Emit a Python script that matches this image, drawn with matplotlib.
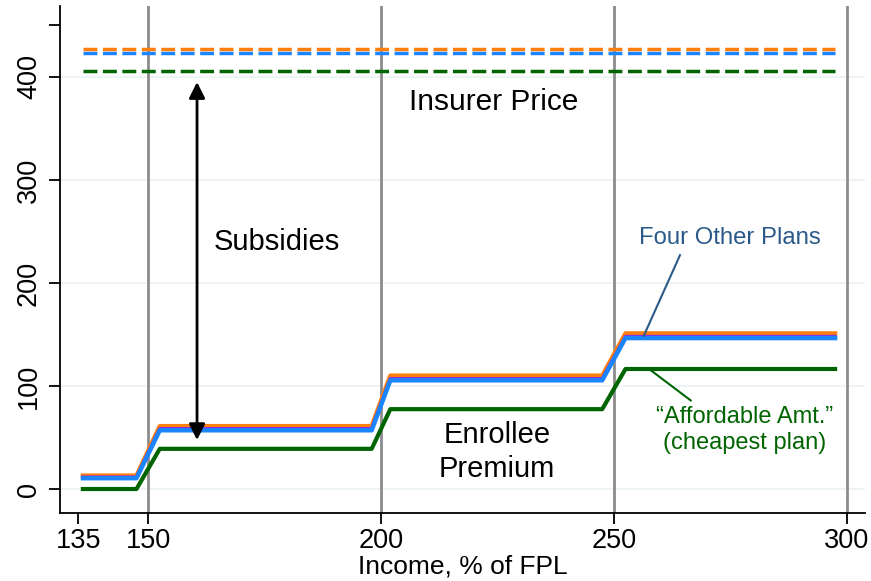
import matplotlib
matplotlib.use("Agg")
import matplotlib.pyplot as plt

plt.rcParams["font.family"] = ["Liberation Sans", "DejaVu Sans"]

# Income, % of FPL, at the kinks of the step lines
income = [136, 147.5, 152.5, 198, 202, 247.5, 252.5, 297.5]

# Enrollee premiums ($/month)
premium_orange = [13, 13, 61, 61, 110, 110, 151, 151]
premium_purple = [11.5, 11.5, 58.5, 58.5, 107, 107, 148, 148]
premium_blue = [10.5, 10.5, 57, 57, 105.5, 105.5, 146.5, 146.5]
premium_green = [0, 0, 39, 39, 77.5, 77.5, 116.5, 116.5]

# Insurer prices (flat over income)
price_orange = 427
price_blue = 423
price_green = 405.5

x_ticks = [135, 150, 200, 250, 300]
y_ticks = [0, 100, 200, 300, 400, 450]
y_labels = ["0", "100", "200", "300", "400", ""]

orange = "#ff7f0e"
blue = "#1a85ff"
purple = "#8a2be2"
green = "#006400"
navy = "#2b5a8a"

fig = plt.figure(figsize=(8.71, 5.81), dpi=100)
ax = fig.add_axes([0.069, 0.117, 0.924, 0.873])
ax.set_xlim(131.1, 303.9)
ax.set_ylim(-23.3, 469)

# faint horizontal grid and gray vertical reference lines
for yv in [0, 100, 200, 300, 400]:
    ax.axhline(yv, color="#eef4f5", lw=1.5, zorder=0)
for xv in [150, 200, 250, 300]:
    ax.axvline(xv, color="#8c8c8c", lw=2, zorder=1)

# dashed insurer prices
ax.plot([income[0], income[-1]], [price_green] * 2, color=green, lw=2.5, ls=(0, (4, 1.6)), zorder=3)
ax.plot([income[0], income[-1]], [price_blue] * 2, color=blue, lw=2.5, ls=(0, (4, 1.6)), zorder=3)
ax.plot([income[0], income[-1]], [price_orange] * 2, color=orange, lw=2.5, ls=(0, (4, 1.6)), zorder=4)

# enrollee premiums
ax.plot(income, premium_orange, color=orange, lw=3.2, zorder=3)
ax.plot(income, premium_purple, color=purple, lw=2.5, zorder=3)
ax.plot(income, premium_blue, color=blue, lw=3.2, zorder=4)
ax.plot(income, premium_green, color=green, lw=3, zorder=4)

# subsidy arrow
ax.annotate("", xy=(160.5, 395), xytext=(160.5, 47.5),
            arrowprops=dict(arrowstyle="<|-|>", color="black", lw=2,
                            mutation_scale=24, shrinkA=0, shrinkB=0), zorder=5)

ax.text(224.2, 376, "Insurer Price", fontsize=21.5, ha="center", va="center")
ax.text(177.6, 240, "Subsidies", fontsize=21, ha="center", va="center")
ax.text(224.9, 36, "Enrollee\nPremium", fontsize=21, ha="center", va="center",
        linespacing=1.25)

ax.text(274.9, 244, "Four Other Plans", fontsize=17.2, ha="center", va="center", color=navy)
ax.plot([264.2, 256.4], [227, 148.5], color=navy, lw=1.5, zorder=5)

ax.text(278.1, 57, "\u201cAffordable Amt.\u201d\n(cheapest plan)", fontsize=17,
        ha="center", va="center", color=green, linespacing=1.25)
ax.plot([258, 266.5], [115, 86], color=green, lw=1.5, zorder=5)

ax.set_xticks(x_ticks)
ax.set_xticklabels([str(v) for v in x_ticks], fontsize=19.5)
ax.set_yticks(y_ticks)
ax.set_yticklabels(y_labels, fontsize=19.5, rotation=90, va="center")
ax.tick_params(axis="y", direction="out", length=8, width=1.3, color="black", pad=5)
ax.tick_params(axis="x", direction="out", length=8, width=1.3, color="black", pad=3)
ax.set_xlabel("Income, % of FPL", fontsize=19, labelpad=0)

for side in ["top", "right"]:
    ax.spines[side].set_visible(False)
for side in ["left", "bottom"]:
    ax.spines[side].set_linewidth(1.3)

fig.savefig("out.png", dpi=100)
